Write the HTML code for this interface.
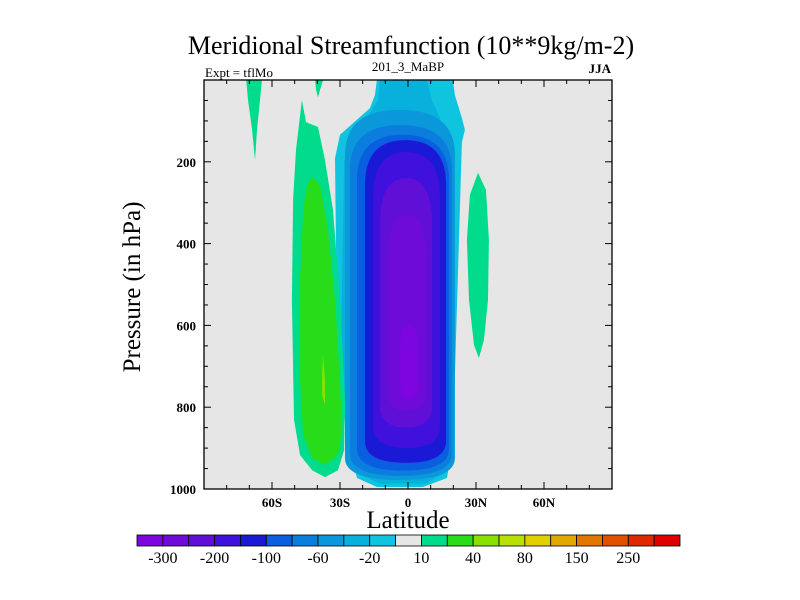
<!DOCTYPE html>
<html><head><meta charset="utf-8">
<style>
html,body{margin:0;padding:0;background:#fff;}
svg{display:block;font-family:"Liberation Serif",serif;}
</style></head>
<body>
<svg id="chart" width="800" height="600" viewBox="0 0 800 600" xmlns="http://www.w3.org/2000/svg">
  <text x="411" y="54" font-size="26" text-anchor="middle">Meridional Streamfunction (10**9kg/m-2)</text>
  <text x="205" y="77" font-size="13">Expt = tflMo</text>
  <text x="408" y="71" font-size="13" text-anchor="middle">201_3_MaBP</text>
  <text x="611" y="73" font-size="13" font-weight="bold" text-anchor="end">JJA</text>
  <rect x="204" y="80" width="408" height="409" fill="#e6e6e6"/>
  <g id="fills"></g>
  <g id="axes"></g>
  <text x="408" y="528" font-size="25" text-anchor="middle">Latitude</text>
  <text transform="translate(140,287) rotate(-90)" font-size="25" text-anchor="middle">Pressure (in hPa)</text>
  <g id="cbar"></g>
</svg>
<script>
// ---- data ----
const levelColors = ["#7d05df","#6e0bd9","#6010d6","#4010dc","#1a1ad6","#0a5ee0","#0a7ddd","#0a98db","#08b0dc","#10c4e0","#e6e6e6","#00dc8c","#28dc1a","#8ae000","#b8e000","#e0d000","#e0a800","#e07800","#e05000","#e02800","#e00000"];
const cbarLabels = ["-300","-200","-100","-60","-20","10","40","80","150","250"];
const yTickValues = [200,400,600,800,1000];
const xTickValues = [-60,-30,0,30,60];
const xTickLabels = ["60S","30S","0","30N","60N"];
// negative cell outer contours as polygons [lat, hPa]
const negOuterLevels = [9,8];
const negOuterShapes = [
 [[-13.7,0],[-14.6,37],[-16.8,69],[-30,134],[-32.2,191],[-31.3,641],[-26.9,885],[-22.5,973],[-13.7,995],[6.6,995],[17.2,973],[19.8,885],[22,477],[23.8,152],[25.1,122],[23.8,93],[20.7,37],[19.8,0]],
 [[-12.3,0],[-13.2,49],[-21.2,117],[-28.2,196],[-29.5,636],[-26.5,880],[-22,962],[-12.3,987],[7.5,987],[15.4,962],[18.5,880],[20.3,489],[19.4,196],[15.4,110],[10.6,49],[8.4,0]]
];
// negative cell inner nested levels
const negLevelColorIdx = [7,6,5,4,3,2,1,0];
const negLeftLat   = [-27.8,-25.6,-22.5,-19,-15.4,-12.3,-8.8,-3.5];
const negRightLat  = [20.7,19.4,18.1,16.8,14.1,10.6,7.9,4.4];
const negTopP      = [73,110,134,147,176,240,330,600];
const negBottomP   = [978,968,955,936,900,850,810,780];
// positive cells: [colorIndex, polygon of [lat, hPa]]
const posCellLevels = [11,12,13,11,11,11];
const posCellShapes = [
 [[-46.8,49],[-45,103],[-39.7,115],[-36.6,196],[-33.1,318],[-30,538],[-27.8,782],[-28.2,905],[-30.9,954],[-36.6,971],[-42.3,954],[-47.6,917],[-50.3,831],[-51.2,538],[-50.7,293],[-49.4,171],[-47.6,86]],
 [[-42.3,237],[-38.8,257],[-35.3,367],[-32.2,538],[-30,734],[-29.1,856],[-30.9,917],[-36.6,941],[-42.3,924],[-46.3,868],[-47.6,734],[-47.6,489],[-46.3,318],[-44.5,257]],
 [[-37.5,672],[-36.6,734],[-36.6,795],[-37.9,770],[-37.9,721]],
 [[-71.4,0],[-64.4,0],[-65.3,49],[-66.6,122],[-67.5,196],[-68.8,122],[-70.6,49]],
 [[-41,0],[-37.5,0],[-38.8,24],[-39.7,42],[-40.6,24]],
 [[30.9,227],[34.4,269],[35.7,391],[35.3,538],[33.5,636],[31.3,680],[29.1,648],[26.9,538],[26,391],[27.3,281]]
];
// ---- axes functions ----
const X = lat => 408 + lat*(408/180);
const Y = p => 80 + p*0.409;
const NS="http://www.w3.org/2000/svg";
function mk(tag, attrs, parent){const e=document.createElementNS(NS,tag);for(const k in attrs)e.setAttribute(k,attrs[k]);parent.appendChild(e);return e;}
const fills=document.getElementById('fills');
const clip=mk('clipPath',{id:'pc'},fills);
mk('rect',{x:204,y:80,width:408,height:409},clip);
const g=mk('g',{'clip-path':'url(#pc)'},fills);
function poly(points, color, name){
  const pts=points.map(([la,p])=>X(la).toFixed(1)+','+Y(p).toFixed(1)).join(' ');
  const e=mk('polygon',{points:pts,fill:color},g);
  
  
}
negOuterShapes.forEach((s,i)=>poly(s,levelColors[negOuterLevels[i]],'negative-cell-outer-'+i));
negLevelColorIdx.forEach((ci,i)=>{
  const x1=X(negLeftLat[i]), x2=X(negRightLat[i]);
  const y1=Y(negTopP[i]), y2=Y(negBottomP[i]);
  const h=y2-y1, xc=(x1+x2)/2;
  const rt=Math.min(45,h*0.3), rb=Math.min(22,h*0.2);
  const d=`M${x1},${y1+rt} Q${x1},${y1} ${xc},${y1} Q${x2},${y1} ${x2},${y1+rt} L${x2},${y2-rb} Q${x2},${y2} ${xc},${y2} Q${x1},${y2} ${x1},${y2-rb} Z`;
  const r=mk('path',{d:d,fill:levelColors[ci]},g);
  
  
});
posCellShapes.forEach((s,i)=>poly(s,levelColors[posCellLevels[i]],'positive-cell-'+i));
// axes
const ax=document.getElementById('axes');
mk('rect',{x:204,y:80,width:408,height:409,fill:'none',stroke:'#000','stroke-width':1.3},ax);
for(let lat=-80;lat<=80;lat+=10){
  const major=lat%30===0, len=major?7:4;
  mk('line',{x1:X(lat),x2:X(lat),y1:489,y2:489-len,stroke:'#000'},ax);
  mk('line',{x1:X(lat),x2:X(lat),y1:80,y2:80+len,stroke:'#000'},ax);
}
for(let p=50;p<1000;p+=50){
  const major=p%200===0, len=major?7:4;
  mk('line',{x1:204,x2:204+len,y1:Y(p),y2:Y(p),stroke:'#000'},ax);
  mk('line',{x1:612,x2:612-len,y1:Y(p),y2:Y(p),stroke:'#000'},ax);
}
yTickValues.forEach(v=>{
  const t=mk('text',{x:196,y:Y(v)+5,'font-size':13,'font-weight':'bold','text-anchor':'end'},ax);
  t.textContent=v;
  
  
});
xTickValues.forEach((v,i)=>{
  const t=mk('text',{x:X(v),y:507,'font-size':13,'font-weight':'bold','text-anchor':'middle'},ax);
  t.textContent=xTickLabels[i];
  
  
});
// colorbar
const cb=document.getElementById('cbar');
const cx0=137, cw=(680-137)/levelColors.length;
levelColors.forEach((c,i)=>{
  const r=mk('rect',{x:cx0+i*cw,y:535,width:cw,height:11,fill:c,stroke:'#000','stroke-width':0.8},cb);
  
  
});
cbarLabels.forEach((l,i)=>{
  const t=mk('text',{x:cx0+(2*i+1)*cw,y:563,'font-size':16,'text-anchor':'middle'},cb);
  t.textContent=l;
  
  
});
</script>
</body></html>
